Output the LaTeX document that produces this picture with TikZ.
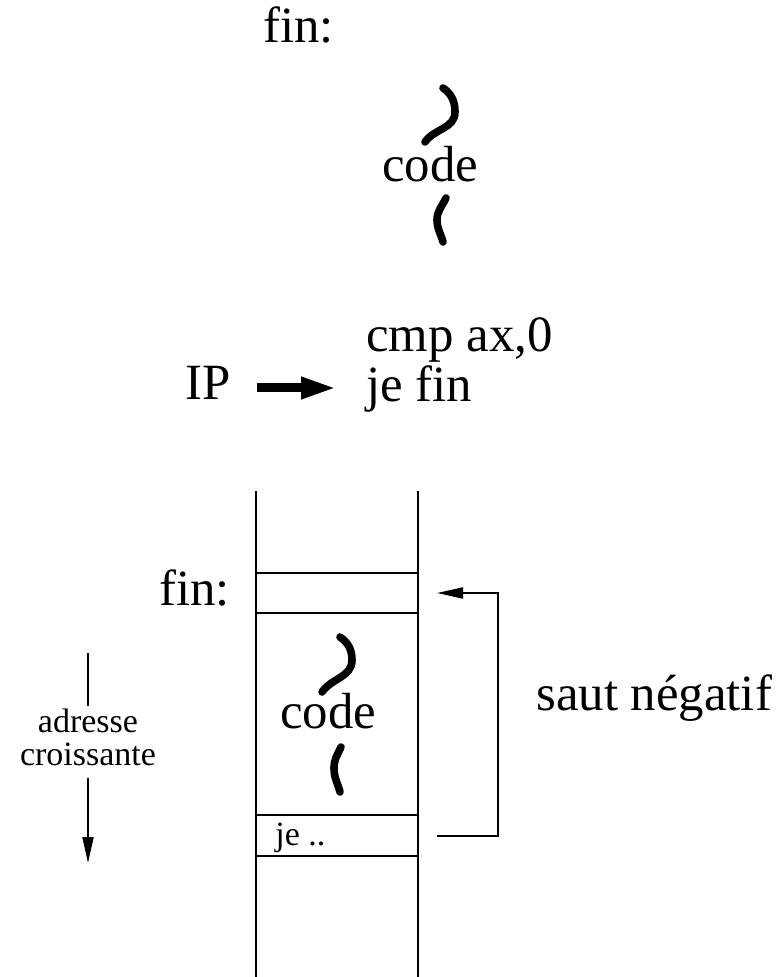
\documentclass[tikz,border=0pt]{standalone}
\usepackage{fontspec}
\setmainfont{Liberation Serif}
\usetikzlibrary{arrows.meta,positioning,calc}
\tikzset{
  big/.style={font=\fontsize{25.4}{30}\selectfont,inner sep=0pt},
  small/.style={font=\fontsize{17}{17}\selectfont,inner sep=0pt},
  squig/.style={line width=3.8pt,line cap=round},
  cell/.style={draw,line width=1pt,minimum width=81pt,minimum height=20pt,inner sep=0pt},
  wall/.style={line width=1pt},
  thinarr/.style={-{Triangle[length=13pt,width=5.5pt]},line width=1pt},
  fatarr/.style={-{Triangle[length=18pt,width=10pt]},line width=4.5pt},
}
\begin{document}
\begin{tikzpicture}[x=0.5pt,y=-0.5pt]
\useasboundingbox (0,0) rectangle (781,977);
% listing: test and jump forward
\node[big,anchor=base west] (fintop) at (263,43) {fin:};
\draw[squig] (443,88) to[out=-35,in=90] (455,112) to[out=-90,in=55] (425,142);
\node[big,anchor=base] (codetop) at (430,182) {code};
\draw[squig] (446,198) to[out=-115,in=90] (437,220) to[out=-90,in=105] (443,242);
\node[big,anchor=base west] (cmp) at (366,352) {cmp ax,0};
\node[big,anchor=base west] (jefin) at (366,402) {je fin};
\node[big,anchor=base west] (ip) at (185,400) {IP};
\draw[fatarr] ($(ip.base east)+(26,-12)$) -- ($(jefin.base west)+(-29,-14)$);
% memory column
\draw[wall] (256,491) -- (256,977) (418,491) -- (418,977);
\node[cell] (finbox) at (337,593) {};
\node[cell,minimum height=20.5pt] (jebox) at (337,835.5) {};
\node[big,anchor=base west] (finlab) at (159,605) {fin:};
\draw[squig] (340,637) to[out=-35,in=90] (352,660) to[out=-90,in=55] (322,692);
\node[big,anchor=base] (code) at (328,728) {code};
\draw[squig] (341,747) to[out=-115,in=90] (334,768) to[out=-90,in=105] (340,792);
\node[small,anchor=base west] (je) at (275,845) {je ..};
% backward jump
\coordinate (turn) at (498,0);
\draw[thinarr] ([xshift=9pt]jebox.east) -| (turn |- finbox.east) -- ([xshift=9pt]finbox.east);
\node[big,anchor=base west] (saut) at (536,710) {saut négatif};
% address direction
\node[small,anchor=base] (adr1) at (88,732) {adresse};
\node[small,anchor=base] (adr2) at (88,765) {croissante};
\coordinate (adrtop) at (88,653);
\coordinate (adrbot) at (88,863);
\draw[wall] (adrtop) -- ([yshift=1pt]adr1.north);
\draw[thinarr] ([yshift=-6pt]adr2.south) -- (adrbot);
\end{tikzpicture}
\end{document}
